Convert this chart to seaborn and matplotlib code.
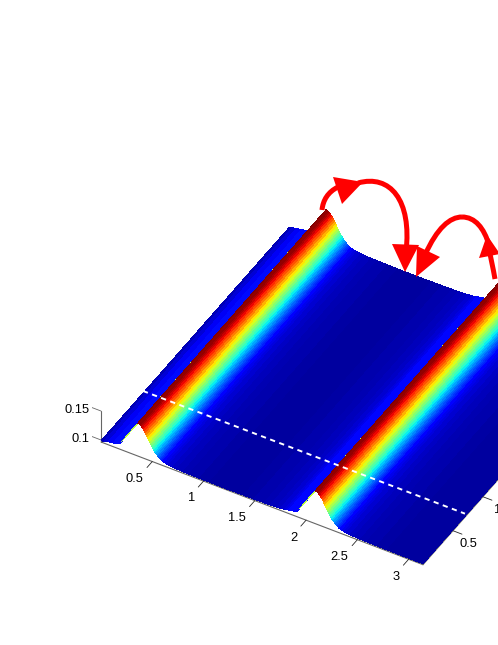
import numpy as np
import seaborn as sns
import matplotlib.pyplot as plt
from matplotlib.path import Path
from matplotlib.patches import PathPatch, Polygon
from mpl_toolkits.mplot3d import proj3d

# ridge cross-section: height against distance from the ridge line
ridge_centres = [0.36, 2.09]
ridge_dist = [0, .01, .02, .03, .04, .05, .06, .07, .08, .09, .10, .11, .12, .13, .14, .15, .16, .17,
              .18, .19, .20, .21, .22, .23, .24, .26, .28, .30, .34, .38, .44, .50, .60, .70]
ridge_z = [.1534, .1528, .1518, .1506, .1490, .1469, .1447, .1420, .1392, .1358, .1329, .1295, .1267,
           .1238, .1210, .1184, .1158, .1139, .1119, .1102, .1084, .1070, .1059, .1045, .1036, .1025,
           .1016, .1011, .1002, .0996, .0992, .0989, .0986, .0984]
# parts of the surface away from the ridges, and the foot of each steep back face
flat_x = [0, 0.03, 0.07, 0.12, 0.18, 1.22, 1.91, 3.14]
flat_z = [.0985, .1000, .1016, .1030, .1052, .0981, .1052, .0981]
y_vals = [0, 3.14]
dash_y = 0.7
dash_z = 0.1025

x_ticks = [0.5, 1, 1.5, 2, 2.5, 3]
x_labels = ["0.5", "1", "1.5", "2", "2.5", "3"]
y_ticks = [0.5, 1, 1.5]
y_labels = ["0.5", "1", "1.5"]
z_ticks = [0.1, 0.15]
z_labels = ["0.1", "0.15"]

sns.set_theme(style="white")
plt.rcParams["font.family"] = ["Liberation Sans", "DejaVu Sans"]
jet = plt.get_cmap("jet")

profile = dict(zip(flat_x, flat_z))
for c in ridge_centres:
    for d, z in zip(ridge_dist, ridge_z):
        if d >= 0.26 and c - d > 0.12:
            profile[round(c - d, 2)] = z
        profile[round(c + d, 2)] = z
x_vals = sorted(profile)
z_vals = [profile[k] for k in x_vals]

fig = plt.figure(figsize=(4.98, 6.45), dpi=100)
ax = fig.add_axes([0.1, 0.1, 0.8, 0.8], projection="3d", proj_type="ortho", computed_zorder=False)
ax.view_init(elev=41.1, azim=-59.9)
ax.set_box_aspect((372, 375, 41.1), zoom=1)

X, Y = np.meshgrid(x_vals, y_vals)
Z = np.array([z_vals, z_vals])
colors = jet(plt.Normalize(0.0965, 0.1534)((Z[:, :-1] + Z[:, 1:]) / 2))
ax.plot_surface(X, Y, Z, facecolors=colors[:1], rstride=1, cstride=1, shade=False,
                linewidth=0.25, edgecolor="none", antialiased=False, zorder=1)

ax.plot([0, 3.14], [dash_y, dash_y], [dash_z, dash_z], color="white", lw=1.4,
        dashes=(2.7, 2.3), zorder=5)

ax.set_xlim(0, 3.14, view_margin=0)
ax.set_ylim(0, 3.14, view_margin=0)
ax.set_zlim(0.0965, 0.15, view_margin=0)
ax.set_xticks(x_ticks, x_labels, ha="right")
ax.set_yticks(y_ticks, y_labels)
ax.set_zticks([])
ax.grid(False)
ax.zaxis.set_ticks_position("lower")
for a in (ax.xaxis, ax.yaxis, ax.zaxis):
    a.pane.set_visible(False)
    a.line.set_color("#666666")
    a.line.set_linewidth(0.8)
    a._axinfo["tick"]["inward_factor"] = 0.35
    a._axinfo["tick"]["outward_factor"] = 0
    a._axinfo["tick"]["color"] = "#666666"
    a._axinfo["tick"]["linewidth"] = {True: 0.6, False: 0.6}
ax.tick_params(labelsize=9.3, labelcolor="black", pad=1)

for t in z_ticks:
    ax.plot([-0.09, 0], [0, 0], [t, t], color="#666666", lw=0.6, zorder=0)

# place the box so the front corners land where they are in the picture
def corner(px, py, pz):
    xs, ys, _ = proj3d.proj_transform(px, py, pz, ax.get_proj())
    return ax.transData.transform((xs, ys))

W, H = fig.bbox.width, fig.bbox.height
for i in range(3):
    ax.apply_aspect()
    a0 = corner(0, 0, 0.0965)
    a1 = corner(3.14, 0, 0.0965)
    pos = ax.get_position(original=True)
    s = 322 / (a1[0] - a0[0])
    side = pos.width * W * s
    frac_x = (a0[0] - pos.x0 * W) / (pos.width * W)
    frac_y = (a0[1] - pos.y0 * H) / (pos.height * H)
    ax.set_position([(101 - frac_x * side) / W, (645 - 442 - frac_y * side) / H, side / W, side / H])

# z labels at the left corner
ax.apply_aspect()
for t, lab in zip(z_ticks, z_labels):
    lx, ly = corner(-0.11, 0, t)
    fig.text(lx / W, (ly - 3) / H, lab, ha="right", va="center", fontsize=9.3, color="black")

# red arrows drawn over the plot in pixel positions
ov = fig.add_axes([0, 0, 1, 1], facecolor="none")
ov.set_xlim(0, 498)
ov.set_ylim(645, 0)
ov.axis("off")

arcs = [
    [(322, 210), (323, 200), (328, 192), (338, 187)],
    [(358, 183), (390, 174), (412, 200), (406, 252)],
    [(425, 255), (437, 228), (450, 217), (462, 217)],
    [(462, 217), (475, 217), (484, 228), (489, 245)],
    [(489, 250), (491, 258), (493, 268), (495, 279)],
]
heads = [
    [(333, 177), (342, 204), (363, 182)],
    [(405, 272), (392, 244), (419, 245)],
    [(416, 277), (417, 246), (440, 257)],
    [(487, 235), (479, 258), (500, 254)],
]
for arc in arcs:
    p = Path(arc, [Path.MOVETO, Path.CURVE4, Path.CURVE4, Path.CURVE4])
    ov.add_patch(PathPatch(p, fill=False, edgecolor="red", lw=3.6, capstyle="butt"))
for h in heads:
    ov.add_patch(Polygon(h, closed=True, facecolor="red", edgecolor="none"))

fig.savefig("out.png", dpi=100)
